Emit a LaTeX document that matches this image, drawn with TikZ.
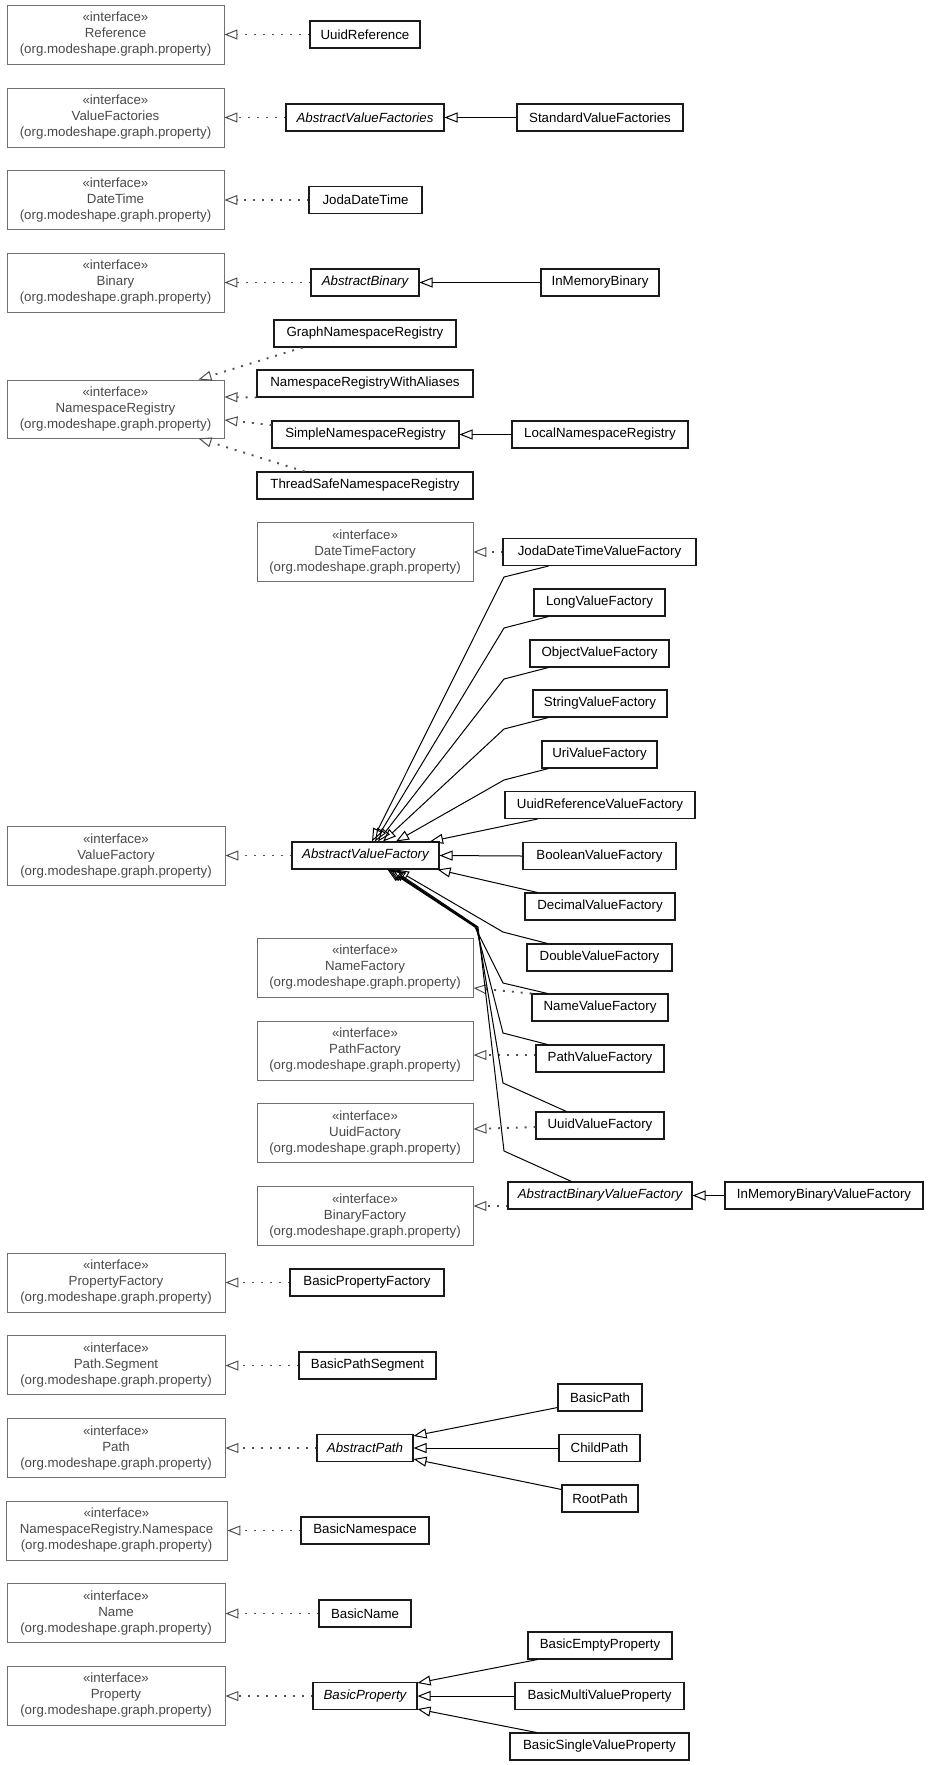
\documentclass[tikz,border=0pt]{standalone}
\usepackage{fontspec}
\setmainfont{Liberation Sans}
\usetikzlibrary{arrows.meta}
\definecolor{ifborder}{HTML}{707070}
\definecolor{iftext}{HTML}{4a4a4a}
\definecolor{clborder}{HTML}{1a1a1a}
\definecolor{dotcol}{HTML}{505050}
\tikzset{
  every node/.style={font=\fontsize{13.3}{16}\selectfont, inner sep=0pt, align=center},
  iface/.style={draw=ifborder, line width=0.9pt, text=iftext, minimum height=59pt},
  cls/.style={draw=clborder, line width=1.05pt, text=black, minimum height=27pt},
  acls/.style={cls, font=\fontsize{13.3}{16}\selectfont\itshape},
  gen/.style={draw=black, line width=1pt, -{Triangle[open,length=13pt,width=10pt]}},
  real/.style={draw=dotcol, line width=1.9pt, dash pattern=on 1.9pt off 7pt,
     -{Triangle[open,length=13pt,width=10pt,line width=1pt,sep=0pt]}},
}
\newcommand{\ifc}[1]{«interface»\\#1\\(org.modeshape.graph.property)}
\begin{document}
\begin{tikzpicture}[x=1pt,y=-1pt]
\useasboundingbox (0,0) rectangle (928,1765);
\fill[white] (0,0) rectangle (928,1765);

% interfaces, left column
\node[iface, minimum width=217pt] (ref)  at (115.5,34.5)  {\ifc{Reference}};
\node[iface, minimum width=217pt] (vfs)  at (115.5,117.5) {\ifc{ValueFactories}};
\node[iface, minimum width=217pt] (dt)   at (115.5,200)   {\ifc{DateTime}};
\node[iface, minimum width=217pt] (bin)  at (115.5,282.5) {\ifc{Binary}};
\node[iface, minimum width=217pt, minimum height=58pt] (nr) at (115.5,409) {\ifc{NamespaceRegistry}};
\node[iface, minimum width=218pt] (vf)   at (116,856)     {\ifc{ValueFactory}};
\node[iface, minimum width=218pt] (propf) at (116,1282.5) {\ifc{PropertyFactory}};
\node[iface, minimum width=218pt] (seg)  at (116,1365)    {\ifc{Path.Segment}};
\node[iface, minimum width=218pt] (path) at (116,1448)    {\ifc{Path}};
\node[iface, minimum width=221pt] (nrn)  at (116.5,1530.5) {\ifc{NamespaceRegistry.Namespace}};
\node[iface, minimum width=218pt] (name) at (116,1613)    {\ifc{Name}};
\node[iface, minimum width=218pt] (prop) at (116,1695.5)  {\ifc{Property}};

% interfaces, middle column
\node[iface, minimum width=216pt] (dtf) at (365,552)    {\ifc{DateTimeFactory}};
\node[iface, minimum width=216pt] (nf)  at (365,967.5)  {\ifc{NameFactory}};
\node[iface, minimum width=216pt] (pf)  at (365,1050.5) {\ifc{PathFactory}};
\node[iface, minimum width=216pt] (uf)  at (365,1133)   {\ifc{UuidFactory}};
\node[iface, minimum width=216pt] (bf)  at (365,1216)   {\ifc{BinaryFactory}};

% classes
\node[cls,  minimum width=110pt] (uref) at (365,34.5)   {UuidReference};
\node[acls, minimum width=158pt] (avfs) at (365,117.5)  {AbstractValueFactories};
\node[cls,  minimum width=166pt] (svfs) at (600,117.5)  {StandardValueFactories};
\node[cls,  minimum width=113pt] (jdt)  at (365.5,200)  {JodaDateTime};
\node[acls, minimum width=108pt] (ab)   at (365,282.5)  {AbstractBinary};
\node[cls,  minimum width=118pt] (imb)  at (600,282.5)  {InMemoryBinary};
\node[cls,  minimum width=182pt] (gnr)  at (365,333.5)  {GraphNamespaceRegistry};
\node[cls,  minimum width=216pt] (nrwa) at (365,383.5)  {NamespaceRegistryWithAliases};
\node[cls,  minimum width=187pt] (snr)  at (365.5,434.5) {SimpleNamespaceRegistry};
\node[cls,  minimum width=176pt] (lnr)  at (600,434.5)  {LocalNamespaceRegistry};
\node[cls,  minimum width=216pt] (tsnr) at (365,485.5)  {ThreadSafeNamespaceRegistry};
\node[cls,  minimum width=193pt] (jdtvf) at (599.5,552) {JodaDateTimeValueFactory};
\node[cls,  minimum width=131pt] (lvf)  at (599.5,602.5) {LongValueFactory};
\node[cls,  minimum width=139pt] (ovf)  at (599.5,653.5) {ObjectValueFactory};
\node[cls,  minimum width=134pt] (svf)  at (600,703.5)  {StringValueFactory};
\node[cls,  minimum width=115pt] (urivf) at (599.5,754.5) {UriValueFactory};
\node[cls,  minimum width=190pt] (urvf) at (600,805)    {UuidReferenceValueFactory};
\node[acls, minimum width=147pt] (avf)  at (365.5,855.5) {AbstractValueFactory};
\node[cls,  minimum width=153pt] (bvf)  at (599.5,856)  {BooleanValueFactory};
\node[cls,  minimum width=150pt] (dvf)  at (600,906.5)  {DecimalValueFactory};
\node[cls,  minimum width=145pt] (dblvf) at (599.5,957.5) {DoubleValueFactory};
\node[cls,  minimum width=136pt] (nvf)  at (600,1007.5) {NameValueFactory};
\node[cls,  minimum width=128pt] (pvf)  at (600,1058.5) {PathValueFactory};
\node[cls,  minimum width=128pt] (uvf)  at (600,1125.5) {UuidValueFactory};
\node[acls, minimum width=184pt] (abvf) at (600,1195.5) {AbstractBinaryValueFactory};
\node[cls,  minimum width=198pt] (imbvf) at (824,1195.5) {InMemoryBinaryValueFactory};
\node[cls,  minimum width=154pt] (bpf)  at (367,1282.5) {BasicPropertyFactory};
\node[cls,  minimum width=137pt] (bps)  at (367.5,1365.5) {BasicPathSegment};
\node[cls,  minimum width=84pt]  (bp)   at (600,1397.5) {BasicPath};
\node[acls, minimum width=96pt]  (ap)   at (365,1448)   {AbstractPath};
\node[cls,  minimum width=81pt]  (cp)   at (599.5,1448) {ChildPath};
\node[cls,  minimum width=76pt]  (rp)   at (600,1498.5) {RootPath};
\node[cls,  minimum width=128pt] (bns)  at (365,1530.5) {BasicNamespace};
\node[cls,  minimum width=92pt]  (bn)   at (365,1613.5) {BasicName};
\node[cls,  minimum width=144pt] (bep)  at (600,1645.5) {BasicEmptyProperty};
\node[acls, minimum width=104pt] (bprop) at (365,1696)  {BasicProperty};
\node[cls,  minimum width=169pt] (bmvp) at (599.5,1696) {BasicMultiValueProperty};
\node[cls,  minimum width=179pt] (bsvp) at (599.5,1746.5) {BasicSingleValueProperty};

% realizations
\draw[real] (uref) -- (ref);
\draw[real] (avfs) -- (vfs);
\draw[real] (jdt) -- (dt);
\draw[real] (ab) -- (bin);
\draw[real] ([xshift=29pt]gnr.south west) -- ([xshift=-26pt]nr.north east);
\draw[real] (nrwa.south west) -- ([yshift=12pt]nr.east);
\draw[real] ([yshift=9.5pt]snr.west) -- ([yshift=-11pt]nr.east);
\draw[real] ([xshift=48pt]tsnr.north west) -- ([xshift=-26pt]nr.south east);
\draw[real] (jdtvf) -- (dtf);
\draw[real] (avf.west) -- (vf.east |- avf.west);
\draw[real] (nvf.north west) -- ([yshift=-20.5pt]nf.east);
\draw[real] ([yshift=3.5pt]pvf.west) -- ([yshift=-4.5pt]pf.east);
\draw[real] ([yshift=-1.5pt]uvf.west) -- ([yshift=4pt]uf.east);
\draw[real] ([yshift=-10.5pt]abvf.west) -- ([yshift=10pt]bf.east);
\draw[real] (bpf) -- (propf);
\draw[real] (bps.west) -- (seg.east |- bps.west);
\draw[real] (ap) -- (path);
\draw[real] (bns) -- (nrn);
\draw[real] (bn.west) -- (name.east |- bn.west);
\draw[real] (bprop.west) -- (prop.east |- bprop.west);

% generalizations
\draw[gen] (svfs) -- (avfs);
\draw[gen] (imb) -- (ab);
\draw[gen] (lnr) -- (snr);
\draw[gen] (imbvf) -- (abvf);
\draw[gen] (bvf.west) -- (avf.east);
\draw[gen] (cp) -- (ap);
\draw[gen] ([yshift=4pt]bp.south west) -- ([yshift=-2pt]ap.north east);
\draw[gen] ([yshift=-5pt]rp.north west) -- ([yshift=3pt]ap.south east);
\draw[gen] (bmvp) -- (bprop);
\draw[gen] ([xshift=10pt]bep.south west) -- ([yshift=-1pt]bprop.north east);
\draw[gen] ([xshift=27pt]bsvp.north west) -- ([yshift=1pt]bprop.south east);

% fan into AbstractValueFactory
\draw[gen] ([xshift=46pt]jdtvf.south west) -- (504,577) -- ([xshift=6.5pt]avf.north);
\draw[gen] ([xshift=15pt]lvf.south west) -- (504,628) -- ([xshift=9.5pt]avf.north);
\draw[gen] ([xshift=19pt]ovf.south west) -- (504,679) -- ([xshift=12.5pt]avf.north);
\draw[gen] ([xshift=16pt]svf.south west) -- (504,729) -- ([xshift=17.5pt]avf.north);
\draw[gen] ([xshift=7pt]urivf.south west) -- (504,780) -- ([xshift=30.5pt]avf.north);
\draw[gen] ([xshift=33pt]urvf.south west) -- ([xshift=64.5pt]avf.north);
\draw[gen] ([xshift=13pt]dvf.north west) -- ([xshift=-2pt]avf.south east);
\draw[gen] ([xshift=21pt]dblvf.north west) -- (503,932) -- ([xshift=30.5pt]avf.south);
\draw[gen] ([xshift=16pt]nvf.north west) -- (503,983) -- (475,927) -- ([xshift=22pt]avf.south);
\draw[gen] ([xshift=12pt]pvf.north west) -- (503,1033) -- (476,927) -- ([xshift=23.5pt]avf.south);
\draw[gen] ([xshift=31pt]uvf.north west) -- (503,1083) -- (477,927) -- ([xshift=25pt]avf.south);
\draw[gen] ([xshift=64pt]abvf.north west) -- (504,1151) -- (478,927) -- ([xshift=27pt]avf.south);
\end{tikzpicture}
\end{document}
